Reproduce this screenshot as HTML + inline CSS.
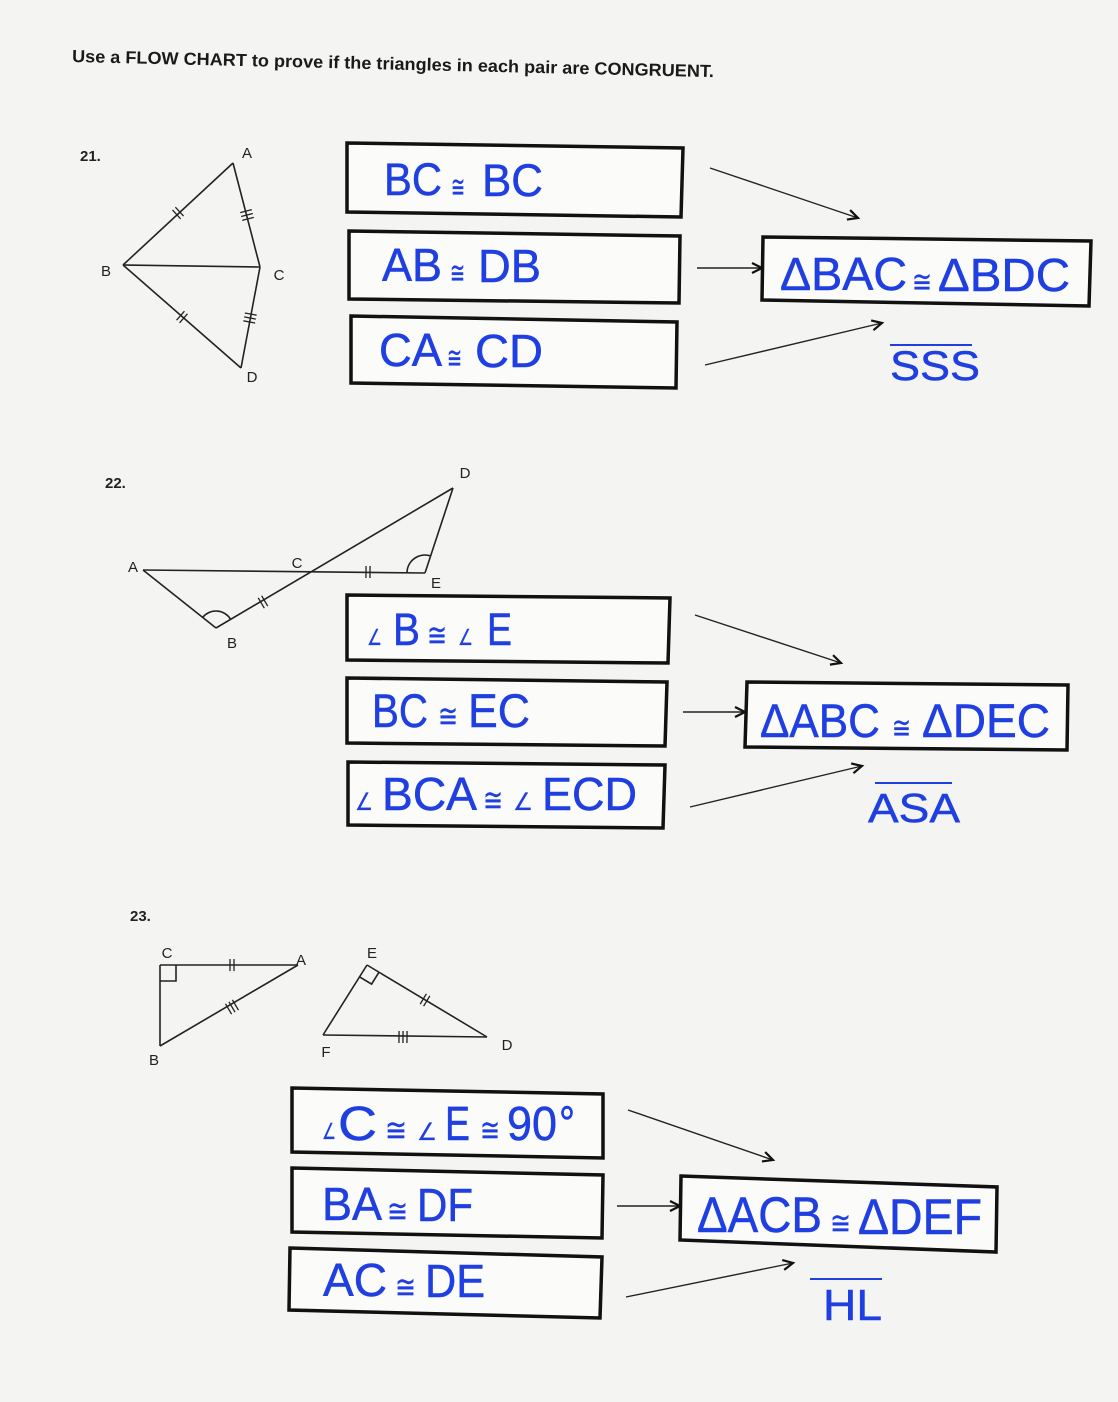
<!DOCTYPE html>
<html>
<head>
<meta charset="utf-8">
<style>
  html, body { margin:0; padding:0; background:#f4f4f2; }
  svg { display:block; }
  .lbl { font-family:"Liberation Sans","DejaVu Sans",sans-serif; font-size:15px; fill:#222; text-anchor:middle; }
  .num { font-family:"Liberation Sans","DejaVu Sans",sans-serif; font-size:15px; font-weight:bold; fill:#222; }
  .b { font-family:"Liberation Sans","DejaVu Sans",sans-serif; fill:#1f3fe0; stroke:#1f3fe0; stroke-width:0.5; }
  .s { font-family:"DejaVu Sans","Liberation Sans",sans-serif; fill:#1f3fe0; stroke:#1f3fe0; stroke-width:0.3; }
  .box { fill:#fbfbfa; stroke:#111; stroke-width:3.5; stroke-linejoin:miter; }
  .g { stroke:#222; stroke-width:1.6; fill:none; }
  .t { stroke:#222; stroke-width:1.3; }
  .ar { stroke:#222; stroke-width:1.4; fill:none; }
</style>
</head>
<body>
<svg width="1118" height="1402" viewBox="0 0 1118 1402" xmlns="http://www.w3.org/2000/svg">
  <defs>
    <marker id="ah" markerUnits="userSpaceOnUse" markerWidth="16" markerHeight="16" refX="11" refY="6" orient="auto">
      <path d="M1,1 L11,6 L1,11" fill="none" stroke="#111" stroke-width="2.2"/>
    </marker>
  </defs>
  <rect x="0" y="0" width="1118" height="1402" fill="#f4f4f2"/>

  <!-- Title -->
  <text x="72" y="62" transform="rotate(1.35 72 62)" font-family="Liberation Sans, DejaVu Sans, sans-serif" font-size="17.5" font-weight="bold" fill="#1a1a1a" textLength="642" lengthAdjust="spacingAndGlyphs">Use a FLOW CHART to prove if the triangles in each pair are CONGRUENT.</text>

  <!-- ============ 21 ============ -->
  <text class="num" x="80" y="161">21.</text>
  <g class="g">
    <line x1="233" y1="163" x2="123" y2="265"/>
    <line x1="233" y1="163" x2="260" y2="267"/>
    <line x1="123" y1="265" x2="260" y2="267"/>
    <line x1="123" y1="265" x2="241" y2="368"/>
    <line x1="260" y1="267" x2="241" y2="368"/>
  </g>
  <g class="t">
    <g transform="translate(178 213) rotate(-42.8)"><line x1="-2" y1="-6" x2="-2" y2="6"/><line x1="2" y1="-6" x2="2" y2="6"/></g>
    <g transform="translate(247 215) rotate(75.4)"><line x1="-4" y1="-6" x2="-4" y2="6"/><line x1="0" y1="-6" x2="0" y2="6"/><line x1="4" y1="-6" x2="4" y2="6"/></g>
    <g transform="translate(182 317) rotate(41.1)"><line x1="-2" y1="-6" x2="-2" y2="6"/><line x1="2" y1="-6" x2="2" y2="6"/></g>
    <g transform="translate(250 318) rotate(100.7)"><line x1="-4" y1="-6" x2="-4" y2="6"/><line x1="0" y1="-6" x2="0" y2="6"/><line x1="4" y1="-6" x2="4" y2="6"/></g>
  </g>
  <text class="lbl" x="247" y="158">A</text>
  <text class="lbl" x="106" y="276">B</text>
  <text class="lbl" x="279" y="280">C</text>
  <text class="lbl" x="252" y="382">D</text>

  <polygon class="box" points="347,143 683,148 681,217 347,212"/>
  <polygon class="box" points="349,231 680,236 679,303 349,299"/>
  <polygon class="box" points="351,316 677,322 676,388 351,383"/>
  <polygon class="box" points="763,237 1091,241 1089,306 762,300"/>

  <text class="b" x="384" y="195" font-size="45" textLength="58" lengthAdjust="spacingAndGlyphs">BC</text>
  <text class="s" x="451" y="197" font-size="30" textLength="14" lengthAdjust="spacingAndGlyphs">≅</text>
  <text class="b" x="482" y="196" font-size="45" textLength="61" lengthAdjust="spacingAndGlyphs">BC</text>

  <text class="b" x="382" y="281" font-size="46" textLength="60" lengthAdjust="spacingAndGlyphs">AB</text>
  <text class="s" x="450" y="283" font-size="30" textLength="15" lengthAdjust="spacingAndGlyphs">≅</text>
  <text class="b" x="478" y="282" font-size="46" textLength="63" lengthAdjust="spacingAndGlyphs">DB</text>

  <text class="b" x="379" y="366" font-size="46" textLength="63" lengthAdjust="spacingAndGlyphs">CA</text>
  <text class="s" x="447" y="368" font-size="30" textLength="15" lengthAdjust="spacingAndGlyphs">≅</text>
  <text class="b" x="475" y="367" font-size="46" textLength="68" lengthAdjust="spacingAndGlyphs">CD</text>

  <text class="b" x="780" y="290" font-size="46" textLength="127" lengthAdjust="spacingAndGlyphs">ΔBAC</text>
  <text class="s" x="912" y="292" font-size="30" textLength="20" lengthAdjust="spacingAndGlyphs">≅</text>
  <text class="b" x="938" y="291" font-size="46" textLength="132" lengthAdjust="spacingAndGlyphs">ΔBDC</text>

  <line x1="890" y1="345" x2="972" y2="345" stroke="#1f3fe0" stroke-width="2"/>
  <text class="b" x="890" y="380" font-size="42" textLength="90" lengthAdjust="spacingAndGlyphs">SSS</text>

  <line class="ar" x1="710" y1="168" x2="858" y2="218" marker-end="url(#ah)"/>
  <line class="ar" x1="697" y1="268" x2="762" y2="268" marker-end="url(#ah)"/>
  <line class="ar" x1="705" y1="365" x2="882" y2="323" marker-end="url(#ah)"/>

  <!-- ============ 22 ============ -->
  <text class="num" x="105" y="488">22.</text>
  <g class="g">
    <line x1="143" y1="570" x2="425" y2="573"/>
    <line x1="143" y1="570" x2="216" y2="628"/>
    <line x1="216" y1="628" x2="453" y2="488"/>
    <line x1="453" y1="488" x2="425" y2="573"/>
    <path d="M202.7,617.4 A17,17 0 0 1 230.6,619.3"/>
    <path d="M407,573 A18,18 0 0 1 430.6,555.9"/>
  </g>
  <g class="t">
    <g transform="translate(263 602) rotate(-30.6)"><line x1="-2" y1="-6" x2="-2" y2="6"/><line x1="2" y1="-6" x2="2" y2="6"/></g>
    <g transform="translate(368 572) rotate(0.6)"><line x1="-2" y1="-6" x2="-2" y2="6"/><line x1="2" y1="-6" x2="2" y2="6"/></g>
  </g>
  <text class="lbl" x="133" y="572">A</text>
  <text class="lbl" x="297" y="568">C</text>
  <text class="lbl" x="465" y="478">D</text>
  <text class="lbl" x="436" y="588">E</text>
  <text class="lbl" x="232" y="648">B</text>

  <polygon class="box" points="347,595 670,598 668,663 347,660"/>
  <polygon class="box" points="347,678 667,682 665,746 347,743"/>
  <polygon class="box" points="348,762 665,765 663,828 348,825"/>
  <polygon class="box" points="747,682 1068,685 1067,750 745,747"/>

  <text class="s" x="367" y="645" font-size="22" textLength="15" lengthAdjust="spacingAndGlyphs">∠</text>
  <text class="b" x="393" y="645" font-size="45" textLength="27" lengthAdjust="spacingAndGlyphs">B</text>
  <text class="s" x="427" y="646" font-size="32" textLength="20" lengthAdjust="spacingAndGlyphs">≅</text>
  <text class="s" x="458" y="645" font-size="22" textLength="15" lengthAdjust="spacingAndGlyphs">∠</text>
  <text class="b" x="487" y="645" font-size="45" textLength="25" lengthAdjust="spacingAndGlyphs">E</text>

  <text class="b" x="372" y="727" font-size="47" textLength="56" lengthAdjust="spacingAndGlyphs">BC</text>
  <text class="s" x="438" y="727" font-size="32" textLength="20" lengthAdjust="spacingAndGlyphs">≅</text>
  <text class="b" x="468" y="727" font-size="47" textLength="62" lengthAdjust="spacingAndGlyphs">EC</text>

  <text class="s" x="355" y="810" font-size="24" textLength="18" lengthAdjust="spacingAndGlyphs">∠</text>
  <text class="b" x="382" y="810" font-size="46" textLength="95" lengthAdjust="spacingAndGlyphs">BCA</text>
  <text class="s" x="483" y="811" font-size="32" textLength="20" lengthAdjust="spacingAndGlyphs">≅</text>
  <text class="s" x="513" y="810" font-size="24" textLength="20" lengthAdjust="spacingAndGlyphs">∠</text>
  <text class="b" x="542" y="810" font-size="46" textLength="95" lengthAdjust="spacingAndGlyphs">ECD</text>

  <text class="b" x="760" y="737" font-size="47" textLength="120" lengthAdjust="spacingAndGlyphs">ΔABC</text>
  <text class="s" x="892" y="738" font-size="30" textLength="19" lengthAdjust="spacingAndGlyphs">≅</text>
  <text class="b" x="922" y="737" font-size="47" textLength="128" lengthAdjust="spacingAndGlyphs">ΔDEC</text>

  <line x1="875" y1="783" x2="952" y2="783" stroke="#1f3fe0" stroke-width="2"/>
  <text class="b" x="868" y="822" font-size="41" textLength="92" lengthAdjust="spacingAndGlyphs">ASA</text>

  <line class="ar" x1="695" y1="615" x2="841" y2="663" marker-end="url(#ah)"/>
  <line class="ar" x1="683" y1="712" x2="745" y2="712" marker-end="url(#ah)"/>
  <line class="ar" x1="690" y1="807" x2="862" y2="766" marker-end="url(#ah)"/>

  <!-- ============ 23 ============ -->
  <text class="num" x="130" y="921">23.</text>
  <g class="g">
    <line x1="160" y1="965" x2="298" y2="965"/>
    <line x1="160" y1="965" x2="160" y2="1046"/>
    <line x1="160" y1="1046" x2="298" y2="965"/>
    <polyline points="160,981 176,981 176,965"/>
    <line x1="367" y1="965" x2="323" y2="1035"/>
    <line x1="323" y1="1035" x2="487" y2="1037"/>
    <line x1="487" y1="1037" x2="367" y2="965"/>
    <polyline points="359.6,976.9 371.6,984.1 379,972.2"/>
  </g>
  <g class="t">
    <g transform="translate(232 965)"><line x1="-2" y1="-6" x2="-2" y2="6"/><line x1="2" y1="-6" x2="2" y2="6"/></g>
    <g transform="translate(232 1007) rotate(-30.4)"><line x1="-4" y1="-6" x2="-4" y2="6"/><line x1="0" y1="-6" x2="0" y2="6"/><line x1="4" y1="-6" x2="4" y2="6"/></g>
    <g transform="translate(425 1000) rotate(31)"><line x1="-2" y1="-6" x2="-2" y2="6"/><line x1="2" y1="-6" x2="2" y2="6"/></g>
    <g transform="translate(403 1037) rotate(0.7)"><line x1="-4" y1="-6" x2="-4" y2="6"/><line x1="0" y1="-6" x2="0" y2="6"/><line x1="4" y1="-6" x2="4" y2="6"/></g>
  </g>
  <text class="lbl" x="167" y="958">C</text>
  <text class="lbl" x="301" y="965">A</text>
  <text class="lbl" x="154" y="1065">B</text>
  <text class="lbl" x="372" y="958">E</text>
  <text class="lbl" x="326" y="1057">F</text>
  <text class="lbl" x="507" y="1050">D</text>

  <polygon class="box" points="292,1088 603,1094 603,1158 292,1152"/>
  <polygon class="box" points="292,1168 603,1175 602,1238 292,1232"/>
  <polygon class="box" points="290,1248 602,1257 600,1318 289,1310"/>
  <polygon class="box" points="681,1176 997,1187 996,1252 680,1240"/>

  <text class="s" x="322" y="1139" font-size="22" textLength="14" lengthAdjust="spacingAndGlyphs">∠</text>
  <text class="b" x="338" y="1140" font-size="48" textLength="39" lengthAdjust="spacingAndGlyphs">C</text>
  <text class="s" x="385" y="1141" font-size="32" textLength="22" lengthAdjust="spacingAndGlyphs">≅</text>
  <text class="s" x="417" y="1140" font-size="24" textLength="20" lengthAdjust="spacingAndGlyphs">∠</text>
  <text class="b" x="445" y="1140" font-size="48" textLength="25" lengthAdjust="spacingAndGlyphs">E</text>
  <text class="s" x="480" y="1141" font-size="32" textLength="20" lengthAdjust="spacingAndGlyphs">≅</text>
  <text class="b" x="507" y="1140" font-size="48" textLength="50" lengthAdjust="spacingAndGlyphs">90</text>
  <text class="b" x="559" y="1140" font-size="48" textLength="16" lengthAdjust="spacingAndGlyphs">°</text>

  <text class="b" x="322" y="1220" font-size="46" textLength="60" lengthAdjust="spacingAndGlyphs">BA</text>
  <text class="s" x="387" y="1222" font-size="32" textLength="21" lengthAdjust="spacingAndGlyphs">≅</text>
  <text class="b" x="417" y="1221" font-size="46" textLength="56" lengthAdjust="spacingAndGlyphs">DF</text>

  <text class="b" x="323" y="1296" font-size="46" textLength="64" lengthAdjust="spacingAndGlyphs">AC</text>
  <text class="s" x="395" y="1298" font-size="32" textLength="21" lengthAdjust="spacingAndGlyphs">≅</text>
  <text class="b" x="425" y="1297" font-size="46" textLength="60" lengthAdjust="spacingAndGlyphs">DE</text>

  <text class="b" x="697" y="1232" font-size="50" textLength="125" lengthAdjust="spacingAndGlyphs">ΔACB</text>
  <text class="s" x="830" y="1234" font-size="32" textLength="21" lengthAdjust="spacingAndGlyphs">≅</text>
  <text class="b" x="858" y="1234" font-size="50" textLength="124" lengthAdjust="spacingAndGlyphs">ΔDEF</text>

  <line x1="810" y1="1279" x2="882" y2="1279" stroke="#1f3fe0" stroke-width="2"/>
  <text class="b" x="823" y="1320" font-size="44" textLength="59" lengthAdjust="spacingAndGlyphs">HL</text>

  <line class="ar" x1="628" y1="1110" x2="773" y2="1160" marker-end="url(#ah)"/>
  <line class="ar" x1="617" y1="1206" x2="680" y2="1206" marker-end="url(#ah)"/>
  <line class="ar" x1="626" y1="1297" x2="793" y2="1263" marker-end="url(#ah)"/>
</svg>
</body>
</html>
